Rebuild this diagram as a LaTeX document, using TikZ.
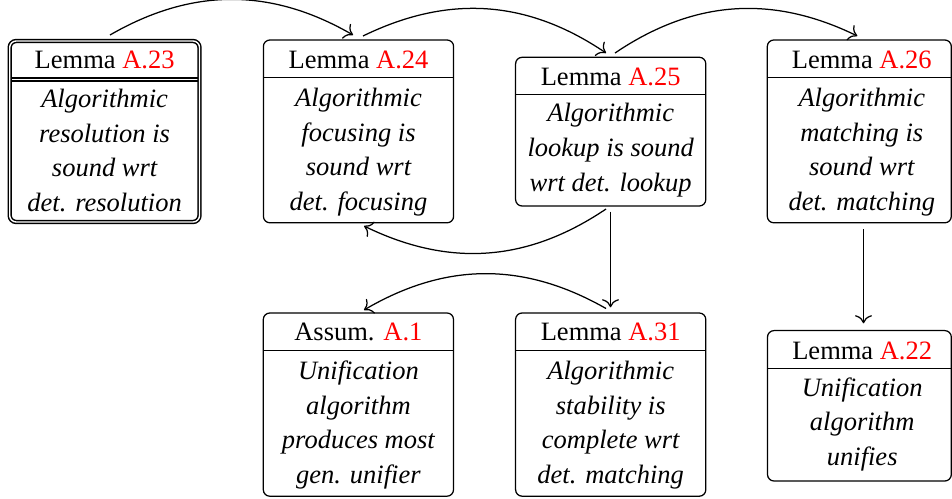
\documentclass[tikz,border=0pt]{standalone}
\usepackage{fontspec}
\setmainfont{Liberation Serif}
\usetikzlibrary{calc,arrows.meta}
\begin{document}
\begin{tikzpicture}[x=0.4pt,y=-0.4pt,
  font=\fontsize{10.6}{13.9}\selectfont,
  box/.style={draw, rounded corners=2.6pt, line width=0.5pt, inner sep=0pt, outer sep=0pt},
  dbox/.style={box, double, line width=0.6pt, double distance=0.55pt},
  head/.style={anchor=base, inner sep=0pt},
  body/.style={anchor=base, inner sep=0pt, font=\fontsize{10.6}{13.9}\selectfont\itshape},
  conn/.style={-{To[scale=1.2]}, line width=0.5pt}]
\useasboundingbox (0,0) rectangle (952,499);

% Lemma A.23 (double border)
\node[dbox, minimum width=75.92pt, minimum height=72.4pt] (a23) at (104.6,131.5) {};
\draw[line width=0.6pt] ($(a23.west |- 0,78.06)+(1.44,0)$) -- ($(a23.east |- 0,78.06)+(-1.44,0)$);
\draw[line width=0.6pt] ($(a23.west |- 0,80.94)+(1.44,0)$) -- ($(a23.east |- 0,80.94)+(-1.44,0)$);
\node[head] (a23h) at (104.6,68.5) {Lemma \textcolor{red}{A.23}};
\node[body] (a23b) at (104.6,107.3) {\begin{tabular}[t]{@{}c@{}}Algorithmic\\resolution is\\sound wrt\\det. resolution\end{tabular}};

% Lemma A.24
\node[box, minimum width=76.08pt, minimum height=73.12pt] (a24) at (358.5,131.4) {};
\draw[line width=0.5pt] (a24.west |- 0,77.2) -- (a24.east |- 0,77.2);
\node[head] (a24h) at (358.5,68.3) {Lemma \textcolor{red}{A.24}};
\node[body] (a24b) at (358.5,106.3) {\begin{tabular}[t]{@{}c@{}}Algorithmic\\focusing is\\sound wrt\\det. focusing\end{tabular}};

% Lemma A.25
\node[box, minimum width=76.08pt, minimum height=59.48pt] (a25) at (610.7,131.65) {};
\draw[line width=0.5pt] (a25.west |- 0,94.3) -- (a25.east |- 0,94.3);
\node[head] (a25h) at (610.7,85.2) {Lemma \textcolor{red}{A.25}};
\node[body] (a25b) at (610.7,121.7) {\begin{tabular}[t]{@{}c@{}}Algorithmic\\lookup is sound\\wrt det. lookup\end{tabular}};

% Lemma A.26
\node[box, minimum width=73.6pt, minimum height=73.12pt] (a26) at (859.3,131.4) {};
\draw[line width=0.5pt] (a26.west |- 0,77.3) -- (a26.east |- 0,77.3);
\node[head] (a26h) at (861.8,68.3) {Lemma \textcolor{red}{A.26}};
\node[body] (a26b) at (861.8,106.3) {\begin{tabular}[t]{@{}c@{}}Algorithmic\\matching is\\sound wrt\\det. matching\end{tabular}};

% Assum. A.1
\node[box, minimum width=76.08pt, minimum height=73.28pt] (a1) at (358.4,404.6) {};
\draw[line width=0.5pt] (a1.west |- 0,350.8) -- (a1.east |- 0,350.8);
\node[head] (a1h) at (358.4,340.9) {Assum. \textcolor{red}{A.1}};
\node[body] (a1b) at (358.4,379.4) {\begin{tabular}[t]{@{}c@{}}Unification\\algorithm\\produces most\\gen. unifier\end{tabular}};

% Lemma A.31
\node[box, minimum width=76.08pt, minimum height=73.28pt] (a31) at (610.7,404.6) {};
\draw[line width=0.5pt] (a31.west |- 0,350.8) -- (a31.east |- 0,350.8);
\node[head] (a31h) at (610.7,340.9) {Lemma \textcolor{red}{A.31}};
\node[body] (a31b) at (610.7,379.4) {\begin{tabular}[t]{@{}c@{}}Algorithmic\\stability is\\complete wrt\\det. matching\end{tabular}};

% Lemma A.22
\node[box, minimum width=73.52pt, minimum height=60.16pt] (a22) at (859.4,405.8) {};
\draw[line width=0.5pt] (a22.west |- 0,368.3) -- (a22.east |- 0,368.3);
\node[head] (a22h) at (862.2,359.2) {Lemma \textcolor{red}{A.22}};
\node[body] (a22b) at (862.2,396.2) {\begin{tabular}[t]{@{}c@{}}Unification\\algorithm\\unifies\end{tabular}};

% connectors
\draw[conn] ($(a23.north)+(5.4,-6)$) to[bend left=30] ($(a24.north)+(-5.5,-5)$);
\draw[conn] ($(a24.north)+(4.5,-4)$) to[bend left=30] ($(a25.north)+(-4.7,-4.3)$);
\draw[conn] ($(a25.north)+(4.3,-4.3)$) to[bend left=30] ($(a26.north)+(-2,-4)$);
\draw[conn] ($(a25.south)+(-4.7,3)$) to[bend left=30] ($(a24.south)+(5.5,3.2)$);
\draw[conn] ($(a25.south)+(-0.2,5.7)$) -- ($(a31.north)+(-0.2,-5.7)$);
\draw[conn] ($(a26.south)+(4.2,6.5)$) -- ($(a22.north)+(4.1,-7.3)$);
\draw[conn] ($(a31.north)+(-4.7,-4.5)$) to[bend right=30] ($(a1.north)+(5.6,-3)$);
\end{tikzpicture}
\end{document}
